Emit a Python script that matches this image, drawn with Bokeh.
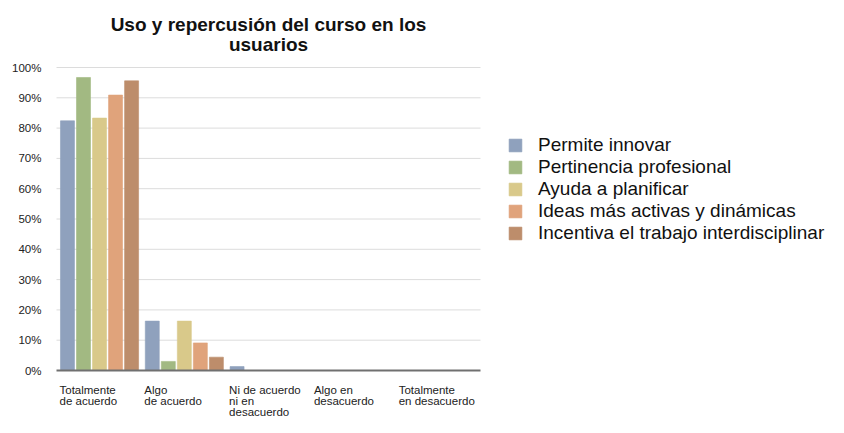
from bokeh.plotting import figure
from bokeh.models import (Range1d, Legend, LegendItem, Label, LabelSet, ColumnDataSource)
from bokeh.core.properties import value
from bokeh.transform import dodge
from bokeh.embed import file_html
from bokeh.resources import INLINE

# ---------------- data ----------------
categories = ["Totalmente\nde acuerdo", "Algo\nde acuerdo", "Ni de acuerdo\nni en\ndesacuerdo",
              "Algo en\ndesacuerdo", "Totalmente\nen desacuerdo"]
series_names = ["Permite innovar", "Pertinencia profesional", "Ayuda a planificar",
                "Ideas más activas y dinámicas", "Incentiva el trabajo interdisciplinar"]
permite_innovar = [0.824, 0.163, 0.013, 0.0, 0.0]
pertinencia_profesional = [0.967, 0.030, 0.0, 0.0, 0.0]
ayuda_a_planificar = [0.833, 0.163, 0.0, 0.0, 0.0]
ideas_activas = [0.909, 0.091, 0.0, 0.0, 0.0]
incentiva_trabajo = [0.956, 0.044, 0.0, 0.0, 0.0]
y_ticks = [0.0, 0.1, 0.2, 0.3, 0.4, 0.5, 0.6, 0.7, 0.8, 0.9, 1.0]
y_tick_labels = ["0%", "10%", "20%", "30%", "40%", "50%", "60%", "70%", "80%", "90%", "100%"]
title_lines = ["Uso y repercusión del curso en los", "usuarios"]

series_values = [permite_innovar, pertinencia_profesional, ayuda_a_planificar,
                 ideas_activas, incentiva_trabajo]
colors = ["#8fa1bd", "#a2b982", "#d9c98a", "#e0a37b", "#bd8d6b"]

FONT = "Liberation Sans"

# ---------------- layout (canvas pixels) ----------------
W, H = 828, 417
PLOT_L, PLOT_R = 56, 480          # plotting area left/right inside canvas
PLOT_T, PLOT_B = 67, 370          # y=100% and y=0 inside canvas
ncat = len(categories)
px_per_x = (PLOT_R - PLOT_L) / ncat
px_per_y = (PLOT_B - PLOT_T) / 1.0
x_range = Range1d(-PLOT_L / px_per_x, ncat + (W - PLOT_R) / px_per_x)
y_range = Range1d(-(H - PLOT_B) / px_per_y, 1.0 + PLOT_T / px_per_y)

p = figure(width=W, height=H, min_border=0, title=None,
           x_range=x_range, y_range=y_range, x_axis_location=None, y_axis_location=None,
           output_backend="svg", toolbar_location=None, tools="")
p.outline_line_color = None
p.background_fill_color = "white"
p.border_fill_color = "white"
p.grid.visible = False

# horizontal gridlines limited to the plotting area
grid_src = ColumnDataSource(dict(y=y_ticks[1:], x0=[0] * (len(y_ticks) - 1),
                                 x1=[ncat] * (len(y_ticks) - 1)))
p.segment(x0="x0", x1="x1", y0="y", y1="y", source=grid_src, line_color="#dcdcdc", line_width=1)

xs = [i for i in range(ncat)]
src = ColumnDataSource(dict(x=xs, **{f"s{j}": v for j, v in enumerate(series_values)}))

bar_w = 0.165
pitch = 0.189
start = 0.047 + bar_w / 2
renderers = []
for j, (name, col) in enumerate(zip(series_names, colors)):
    r = p.vbar(x=dodge("x", start + j * pitch, range=p.x_range), top=f"s{j}", width=bar_w,
               bottom=0, source=src, fill_color=col, line_color=col, line_alpha=0.6,
               line_width=1)
    renderers.append(r)

# baseline (x axis line)
p.segment(x0=[0], x1=[ncat], y0=[y_ticks[0]], y1=[y_ticks[0]], line_color="#707070", line_width=2)

# y tick labels
ysrc = ColumnDataSource(dict(x=[0] * len(y_ticks), y=y_ticks, t=y_tick_labels))
p.add_layout(LabelSet(x="x", y="y", text="t", source=ysrc, x_offset=-15, text_align="right",
                      text_baseline="middle", text_font=value(FONT), text_font_size="11.5px",
                      text_color="#222222"))

# category labels (left-aligned, multi-line)
for li, dy in enumerate([-19, -30, -41]):
    lx, lt = [], []
    for i, c in enumerate(categories):
        parts = c.split("\n")
        if li < len(parts):
            lx.append(i)
            lt.append(parts[li])
    cs = ColumnDataSource(dict(x=lx, y=[0] * len(lx), t=lt))
    p.add_layout(LabelSet(x="x", y="y", text="t", source=cs, x_offset=3, y_offset=dy,
                          text_align="left", text_baseline="middle", text_font=value(FONT),
                          text_font_size="11.5px", text_color="#222222"))

# title (two lines, centred over the plotting area)
for t, dy in zip(title_lines, [43, 23]):
    p.add_layout(Label(x=ncat / 2, y=1.0, y_offset=dy, text=t, text_align="center",
                       text_baseline="middle", text_font=FONT, text_font_size="19px",
                       text_font_style="bold", text_color="#111111"))

# legend
legend = Legend(items=[LegendItem(label=n, renderers=[r]) for n, r in zip(series_names, renderers)],
                location=(507, 173), orientation="vertical",
                glyph_width=16, glyph_height=16, label_height=21, spacing=-1,
                label_standoff=15, padding=0, margin=0,
                border_line_color=None, background_fill_alpha=0,
                label_text_font=FONT, label_text_font_size="19px",
                label_text_line_height=1.0, label_text_color="#111111")
p.add_layout(legend, "center")

open("out.html", "w").write(file_html(p, INLINE))
